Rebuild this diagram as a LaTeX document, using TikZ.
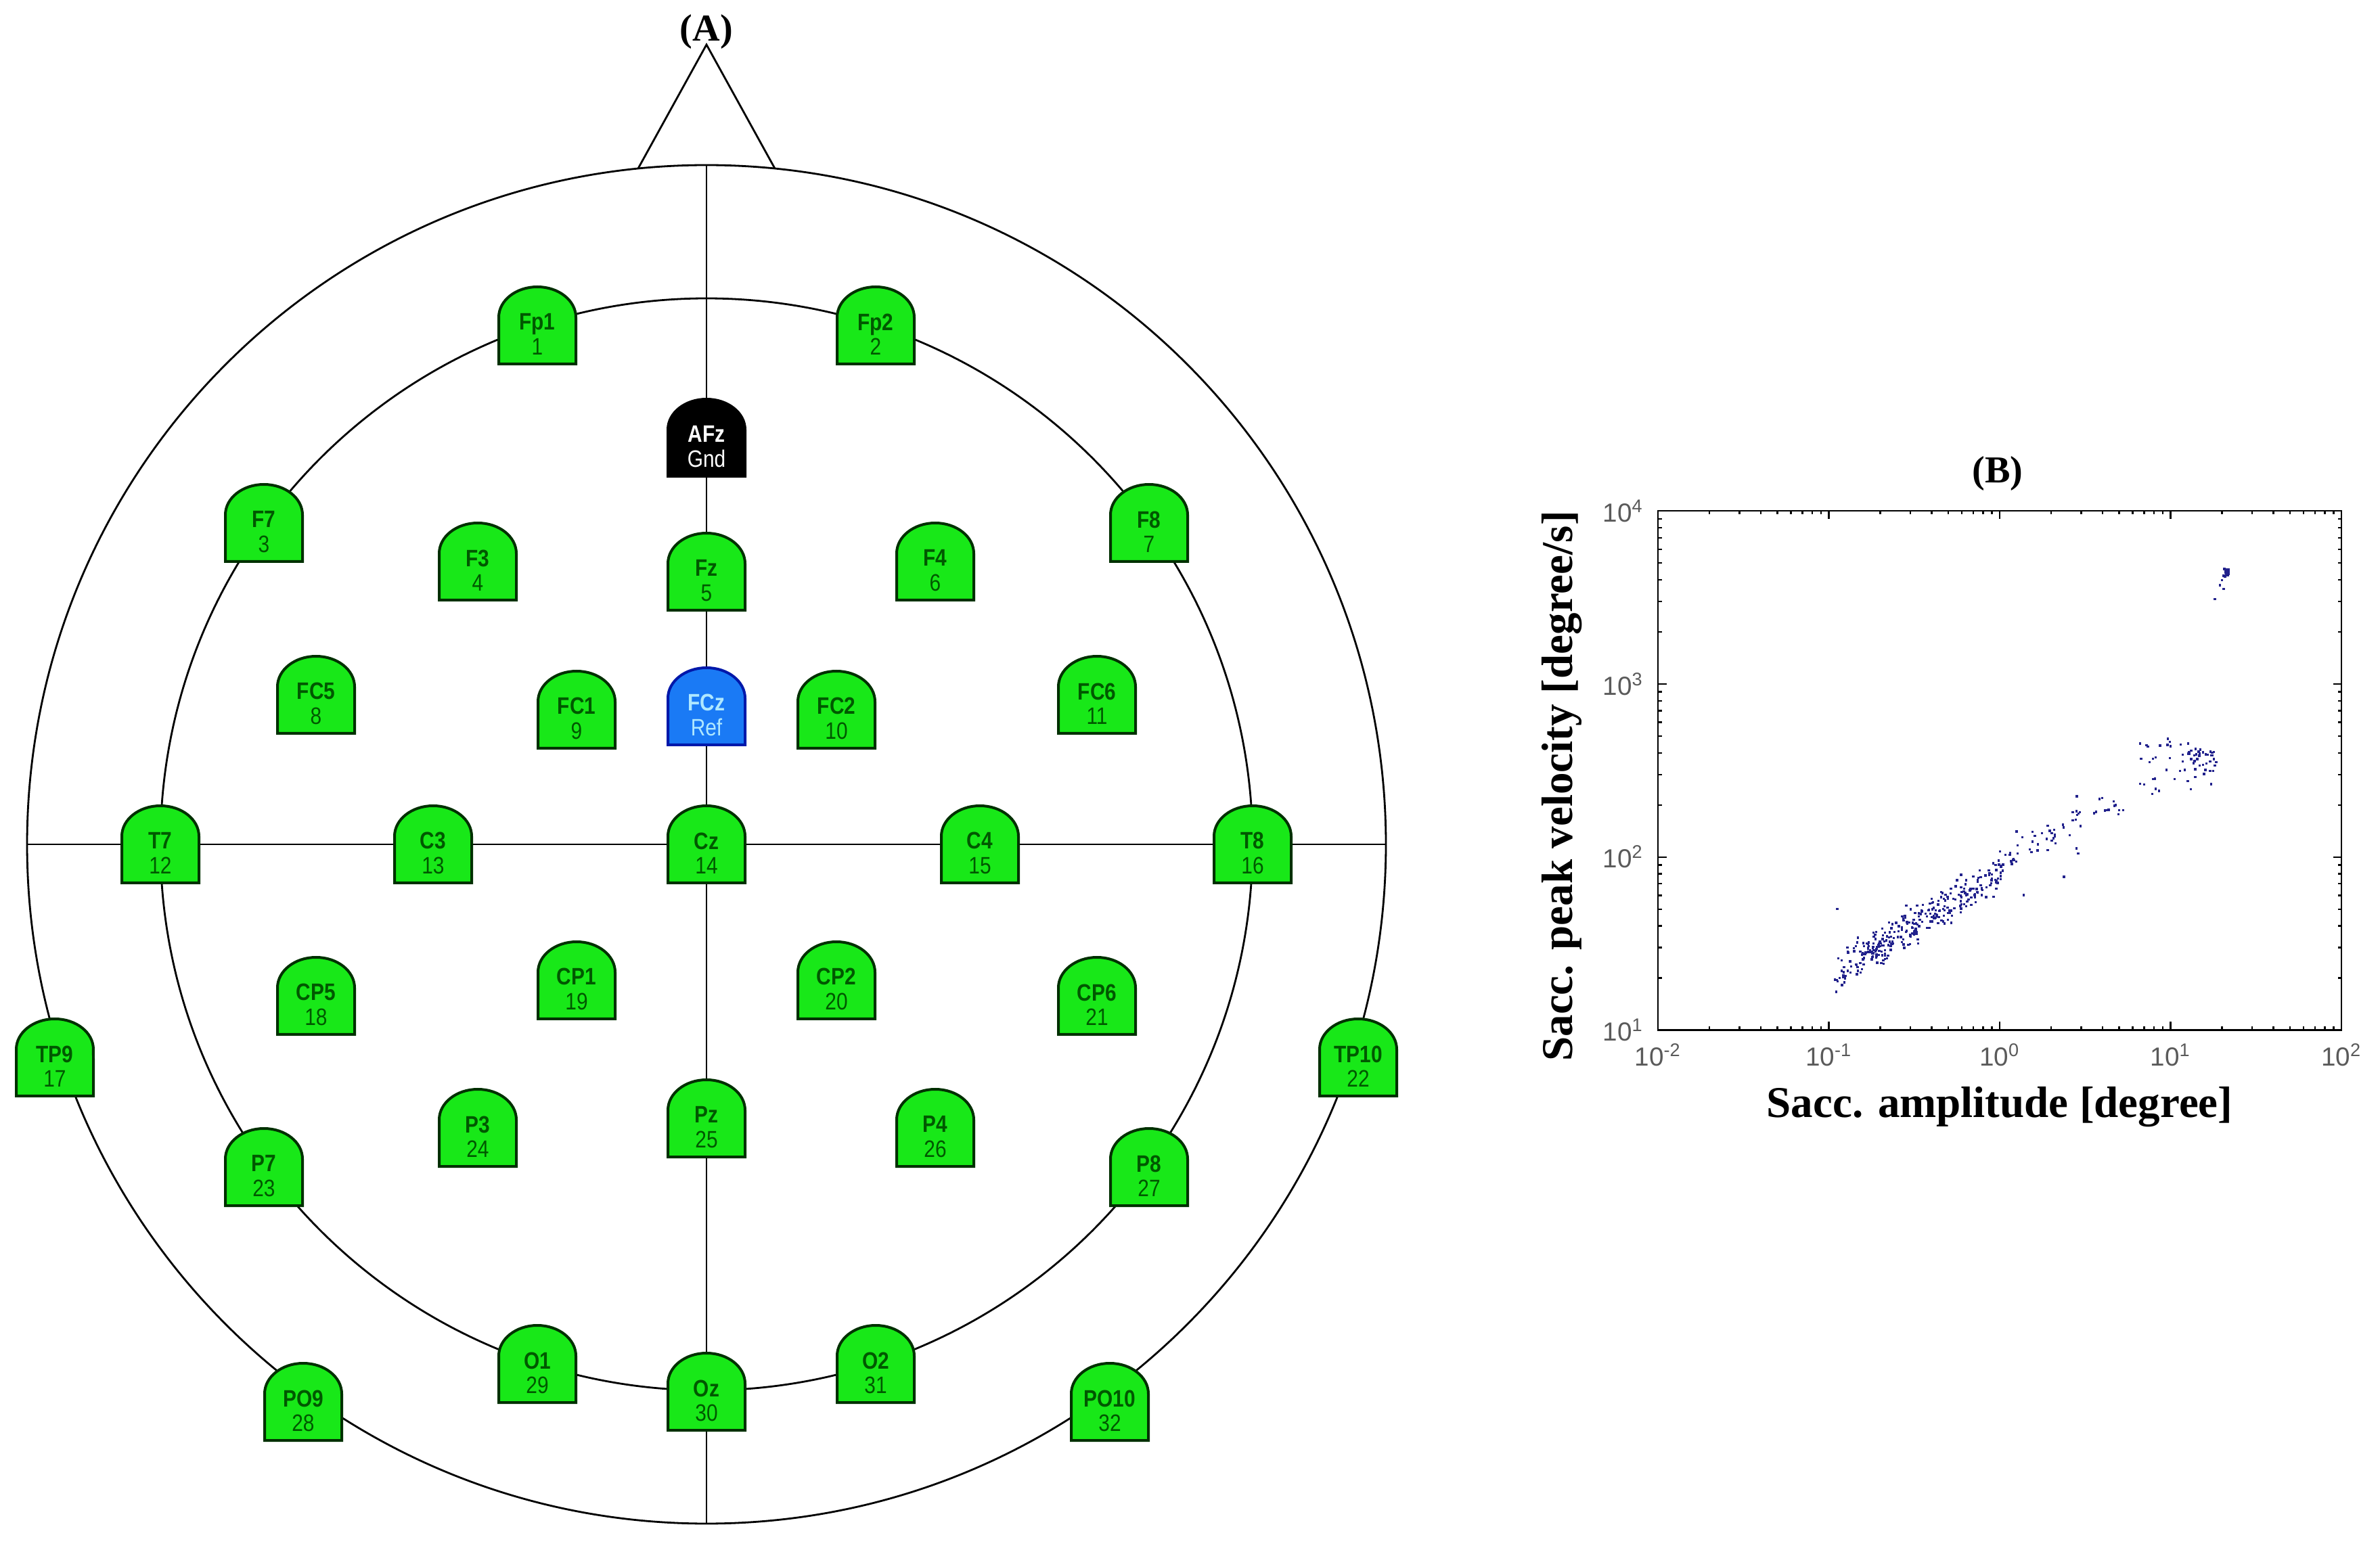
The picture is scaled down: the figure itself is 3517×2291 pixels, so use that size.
\documentclass[tikz,border=0pt]{standalone}
\usepackage{fontspec}
\setmainfont{Liberation Serif}
\newfontfamily\arialfont{Liberation Sans}
\definecolor{elgreen}{RGB}{24,232,24}
\definecolor{eledge}{RGB}{0,48,0}
\definecolor{eltext}{RGB}{0,88,0}
\definecolor{refblue}{RGB}{26,122,245}
\definecolor{refedge}{RGB}{0,24,170}
\definecolor{reftext}{RGB}{175,232,255}
\definecolor{dotblue}{RGB}{34,34,140}
\definecolor{ticktext}{RGB}{90,90,90}
\newcommand\eltfont{\arialfont\fontsize{10}{10.3}\selectfont}
\newcommand\electrode[6]{%
  \path[#6shape] ({#2-57},{#3+57}) -- ({#2-57},{#3-12})
     arc[start angle=180,end angle=0,x radius=5.7mm,y radius=4.5mm]
     -- ({#2+57},{#3+57}) -- cycle;
  \node[#6text] (#1) at ({#2},{#3+13}) {\scalebox{0.85}[1]{\textbf{#4}}\\\scalebox{0.85}[1]{#5}};
}
\tikzset{
  headline/.style={draw=black, line width=0.28mm},
  greenshape/.style={fill=elgreen, draw=eledge, line width=0.4mm},
  blackshape/.style={fill=black, draw=black, line width=0.4mm},
  blueshape/.style={fill=refblue, draw=refedge, line width=0.4mm},
  greentext/.style={text=eltext, font=\eltfont, align=center, inner sep=0pt},
  blacktext/.style={text=white, font=\eltfont, align=center, inner sep=0pt},
  bluetext/.style={text=reftext, font=\eltfont, align=center, inner sep=0pt},
  panellabel/.style={font=\bfseries\fontsize{16}{18}\selectfont, inner sep=0pt},
  axislabel/.style={font=\bfseries\fontsize{18.5}{20}\selectfont, inner sep=0pt},
  ticklab/.style={text=ticktext, font=\arialfont\fontsize{11}{13}\selectfont, inner sep=0pt},
  axline/.style={draw=black, line width=0.23mm},
}
\begin{document}
\begin{tikzpicture}[x=0.1mm,y=-0.1mm]
\useasboundingbox (0,0) rectangle (3517,2291);
\fill[white] (0,0) rectangle (3517,2291);

% ---------------- (A) head ----------------
\coordinate (head) at (1044,1248);
\coordinate (nasion) at (1044,243);
\coordinate (inion) at (1044,2252);
\coordinate (lear) at (40,1248);
\coordinate (rear) at (2048,1248);
\coordinate (noseL) at (943,249);
\coordinate (noseR) at (1145,249);
\coordinate (noseTip) at (1044,66);

\draw[headline] (head) circle[radius=100.4mm];
\draw[headline] (head) circle[radius=80.7mm];
\draw[headline] (nasion) -- (inion);
\draw[headline] (lear) -- (rear);
\draw[headline, line join=miter] (noseL) -- (noseTip) -- (noseR);

\node[panellabel] (labA) at (1044,47) {(A)};

\electrode{Fp1}{794}{481}{Fp1}{1}{green}
\electrode{Fp2}{1294}{481}{Fp2}{2}{green}
\electrode{AFz}{1044}{647}{AFz}{Gnd}{black}
\electrode{F7}{390}{773}{F7}{3}{green}
\electrode{F3}{706}{830}{F3}{4}{green}
\electrode{Fz}{1044}{845}{Fz}{5}{green}
\electrode{F4}{1382}{830}{F4}{6}{green}
\electrode{F8}{1698}{773}{F8}{7}{green}
\electrode{FC5}{467}{1027}{FC5}{8}{green}
\electrode{FC1}{852}{1049}{FC1}{9}{green}
\electrode{FCz}{1044}{1044}{FCz}{Ref}{blue}
\electrode{FC2}{1236}{1049}{FC2}{10}{green}
\electrode{FC6}{1621}{1027}{FC6}{11}{green}
\electrode{T7}{237}{1248}{T7}{12}{green}
\electrode{C3}{640}{1248}{C3}{13}{green}
\electrode{Cz}{1044}{1248}{Cz}{14}{green}
\electrode{C4}{1448}{1248}{C4}{15}{green}
\electrode{T8}{1851}{1248}{T8}{16}{green}
\electrode{TP9}{81}{1563}{TP9}{17}{green}
\electrode{CP5}{467}{1472}{CP5}{18}{green}
\electrode{CP1}{852}{1449}{CP1}{19}{green}
\electrode{CP2}{1236}{1449}{CP2}{20}{green}
\electrode{CP6}{1621}{1472}{CP6}{21}{green}
\electrode{TP10}{2007}{1563}{TP10}{22}{green}
\electrode{P7}{390}{1725}{P7}{23}{green}
\electrode{P3}{706}{1667}{P3}{24}{green}
\electrode{Pz}{1044}{1653}{Pz}{25}{green}
\electrode{P4}{1382}{1667}{P4}{26}{green}
\electrode{P8}{1698}{1725}{P8}{27}{green}
\electrode{PO9}{448}{2072}{PO9}{28}{green}
\electrode{O1}{794}{2016}{O1}{29}{green}
\electrode{Oz}{1044}{2057}{Oz}{30}{green}
\electrode{O2}{1294}{2016}{O2}{31}{green}
\electrode{PO10}{1640}{2072}{PO10}{32}{green}

% ---------------- (B) scatter plot ----------------
% X = 2955 + 252.5*log10(x) ; Y = 1778.3 - 255.8*log10(v)
\node[panellabel] (labB) at (2952,700) {(B)};

% scatter points
\pgfmathsetseed{4242}
\foreach \i in {1,...,230}{
  \pgfmathsetmacro\lx{-0.97+0.98*rnd}
  \pgfmathsetmacro\lv{1.9+0.6*\lx+0.055*(rand+rand+rand)}
  \fill[dotblue] ({2955+252.5*\lx-1.7},{1778.3-255.8*\lv-1.7}) rectangle ++(3.4,3.4);
}
\foreach \i in {1,...,100}{
  \pgfmathsetmacro\lx{-0.75+0.6*rnd}
  \pgfmathsetmacro\lv{1.9+0.6*\lx+0.055*(rand+rand+rand)}
  \fill[dotblue] ({2955+252.5*\lx-1.7},{1778.3-255.8*\lv-1.7}) rectangle ++(3.4,3.4);
}
\foreach \i in {1,...,50}{
  \pgfmathsetmacro\lx{0.0+0.5*rnd}
  \pgfmathsetmacro\lv{1.95+0.6*\lx+0.06*(rand+rand+rand)}
  \fill[dotblue] ({2955+252.5*\lx-1.7},{1778.3-255.8*\lv-1.7}) rectangle ++(3.4,3.4);
}
\foreach \i in {1,...,10}{
  \pgfmathsetmacro\lx{0.55+0.18*rnd}
  \pgfmathsetmacro\lv{2.29+0.05*rand}
  \fill[dotblue] ({2955+252.5*\lx-1.7},{1778.3-255.8*\lv-1.7}) rectangle ++(3.4,3.4);
}
\foreach \i in {1,...,45}{
  \pgfmathsetmacro\lx{0.82+0.45*rnd}
  \pgfmathsetmacro\lv{2.36+0.33*rnd}
  \fill[dotblue] ({2955+252.5*\lx-1.7},{1778.3-255.8*\lv-1.7}) rectangle ++(3.4,3.4);
}
\foreach \i in {1,...,25}{
  \pgfmathsetmacro\lx{1.1+0.17*rnd}
  \pgfmathsetmacro\lv{2.55+0.06*rand}
  \fill[dotblue] ({2955+252.5*\lx-1.7},{1778.3-255.8*\lv-1.7}) rectangle ++(3.4,3.4);
}
\foreach \i in {1,...,18}{
  \pgfmathsetmacro\lx{1.325+0.015*rand}
  \pgfmathsetmacro\lv{3.64+0.03*rand}
  \fill[dotblue] ({2955+252.5*\lx-2},{1778.3-255.8*\lv-2}) rectangle ++(4,4);
}
\foreach \lx/\lv in {1.26/3.49, 1.29/3.57, 1.31/3.55, 1.30/3.60, -0.95/1.70, 0.376/1.885, 0.14/1.78, 0.45/2.05, 0.46/2.02, 0.6/2.34, 0.68/2.3, 0.7/2.27}{
  \fill[dotblue] ({2955+252.5*\lx-1.7},{1778.3-255.8*\lv-1.7}) rectangle ++(3.4,3.4);
}

% axes box
\coordinate (axSW) at (2450,1522.5);
\coordinate (axNE) at (3460,755);
\draw[axline] (axSW) rectangle (axNE);

% x ticks
\foreach \d in {-2,...,2}{
  \pgfmathsetmacro\X{2450+252.5*(\d+2)}
  \draw[axline] (\X,1522.5) -- (\X,1510);
  \draw[axline] (\X,755) -- (\X,767.5);
  \node[ticklab, anchor=north] (xt\d) at (\X,1542) {10\textsuperscript{\d}};
}
\foreach \d in {-2,...,1}{
  \foreach \k in {2,...,9}{
    \pgfmathsetmacro\X{2450+252.5*(\d+2+log10(\k))}
    \draw[axline] (\X,1522.5) -- (\X,1517);
    \draw[axline] (\X,755) -- (\X,760.5);
  }
}
% y ticks
\foreach \d in {1,...,4}{
  \pgfmathsetmacro\Y{1522.5-255.8*(\d-1)}
  \draw[axline] (2450,\Y) -- (2462.5,\Y);
  \draw[axline] (3460,\Y) -- (3447.5,\Y);
  \node[ticklab, anchor=east] (yt\d) at (2429,\Y) {10\textsuperscript{\d}};
}
\foreach \d in {1,...,3}{
  \foreach \k in {2,...,9}{
    \pgfmathsetmacro\Y{1522.5-255.8*(\d-1+log10(\k))}
    \draw[axline] (2450,\Y) -- (2455.5,\Y);
    \draw[axline] (3460,\Y) -- (3454.5,\Y);
  }
}

\node[axislabel] (xlab) at (2955,1636) {Sacc. amplitude [degree]};
\node[axislabel, rotate=90] (ylab) at (2308,1162) {Sacc. peak velocity [degree/s]};
\end{tikzpicture}
\end{document}
